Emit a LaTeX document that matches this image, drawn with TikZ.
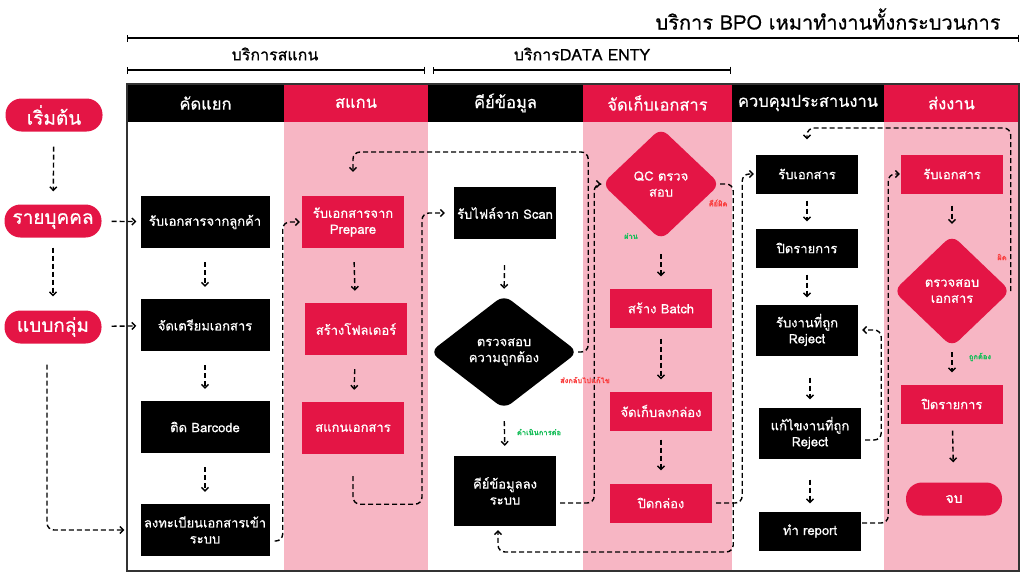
\documentclass[tikz,border=0pt]{standalone}
\usepackage{fontspec}
\setmainfont{Loma}[Script=Thai, FakeBold=0.6]
\usetikzlibrary{arrows.meta,positioning,shapes.geometric}
\definecolor{bred}{RGB}{228,21,69}
\definecolor{bpink}{RGB}{247,182,196}
\definecolor{okgreen}{RGB}{24,190,90}
\definecolor{ngred}{RGB}{250,62,62}

\begin{document}
\begin{tikzpicture}[x=1pt, y=-1pt,
  font=\fontsize{13}{16}\selectfont, >={Straight Barb[length=3.5pt,width=7pt]},
  flow/.style={->, line width=1.4pt, dash pattern=on 5pt off 3pt,
               rounded corners=7pt},
  blk/.style={fill=black, text=white, align=center, inner sep=2pt,
              minimum width=129pt, minimum height=52pt},
  rbx/.style={fill=bred, text=white, align=center, inner sep=2pt,
              minimum width=102pt, minimum height=39pt},
  term/.style={fill=bred, text=white, rounded corners=16pt,
               minimum width=97pt, minimum height=33pt,
               font=\fontsize{19}{21}\selectfont},
  dia/.style={diamond, text=white, align=center, inner sep=0pt,
              rounded corners=9pt},
  hdr/.style={text=white, font=\fontsize{16.5}{19}\selectfont},
  tag/.style={font=\fontsize{7.5}{8}\selectfont\bfseries, inner sep=0pt},
  bar/.style={{Bar[width=7pt]}-{Bar[width=7pt]}, line width=1.4pt}]
\useasboundingbox (0,0) rectangle (1024,576);

% swim lanes
\foreach \xa/\xb/\hcol/\bcol/\hd [count=\i] in
  {127/284/black/white/คัดแยก, 284/428/bred/bpink/สแกน,
   428/583/black/white/คีย์ข้อมูล, 583/732/bred/bpink/จัดเก็บเอกสาร,
   732/884/black/white/ควบคุมประสานงาน, 884/1019/bred/bpink/ส่งงาน}{
  \fill[\bcol] (\xa,122) rectangle (\xb,571);
  \fill[\hcol] (\xa,85) rectangle (\xb,122);
  \node[hdr] (h\i) at ({(\xa+\xb)/2},103) {\hd};
}
\draw[line width=1.6pt, black!80] (127,84) rectangle (1019,571);

% service brackets
\node[font=\fontsize{20}{22}\selectfont] (ttl) at (828,19) {บริการ BPO เหมาทำงานทั้งกระบวนการ};
\draw[bar] (127,38) -- (1019,38);
\node[font=\fontsize{16}{18}\selectfont] (scansvc) at (275,54) {บริการสแกน};
\draw[bar] (127,70) -- (425,70);
\node[font=\fontsize{16}{18}\selectfont] (keysvc) at (582,54) {บริการDATA ENTY};
\draw[bar] (433,70) -- (731,70);

% start
\node[term] (start) at (54,115) {เริ่มต้น};
\node[term] (indiv) at (53,221) {รายบุคคล};
\node[term] (group) at (53,327) {แบบกลุ่ม};

% sort
\node[blk] (recv) at (205,222) {รับเอกสารจากลูกค้า};
\node[blk] (prep) at (205,325) {จัดเตรียมเอกสาร};
\node[blk] (barc) at (205,427) {ติด Barcode};
\node[blk] (regi) at (205,530) {ลงทะเบียนเอกสารเข้า\\ระบบ};

% scan
\node[rbx, minimum height=52pt] (rprep) at (353,222) {รับเอกสารจาก\\Prepare};
\node[rbx, minimum height=52pt] (fold) at (356,329) {สร้างโฟลเดอร์};
\node[rbx, minimum height=52pt] (scan) at (353,428) {สแกนเอกสาร};

% key in
\node[blk, minimum width=102pt] (rfile) at (505,213) {รับไฟล์จาก Scan};
\node[dia, fill=black, minimum width=148pt, minimum height=114pt] (chk) at (504,352) {ตรวจสอบ\\ความถูกต้อง};
\node[blk, minimum width=102pt, minimum height=70pt] (key) at (505,491) {คีย์ข้อมูลลง\\ระบบ};

% store
\node[dia, fill=bred, minimum width=118pt, minimum height=112pt] (qc) at (661,184) {QC ตรวจ\\สอบ};
\node[rbx] (batch) at (661,308) {สร้าง Batch};
\node[rbx] (box) at (661,411) {จัดเก็บลงกล่อง};
\node[rbx] (close) at (661,503) {ปิดกล่อง};

% coordinate
\node[blk, minimum width=102pt, minimum height=39pt] (get) at (807,174) {รับเอกสาร};
\node[blk, minimum width=102pt, minimum height=39pt] (clist) at (807,248) {ปิดรายการ};
\node[blk, minimum width=102pt, minimum height=51pt] (rej) at (807,330) {รับงานที่ถูก\\Reject};
\node[blk, minimum width=102pt, minimum height=51pt] (fix) at (810,433) {แก้ไขงานที่ถูก\\Reject};
\node[blk, minimum width=102pt, minimum height=39pt] (rep) at (810,531) {ทำ report};

% deliver
\node[rbx] (get2) at (952,174) {รับเอกสาร};
\node[dia, fill=bred, minimum width=117pt, minimum height=112pt] (chk2) at (952,291) {ตรวจสอบ\\เอกสาร};
\node[rbx] (clist2) at (952,404) {ปิดรายการ};
\node[term, minimum width=96pt, font=\fontsize{14}{16}\selectfont] (fin) at (954,499) {จบ};

% flow down
\draw[flow, shorten <=15pt, shorten >=13pt] (start) -- (indiv);
\draw[flow, shorten <=10pt, shorten >=14pt] (indiv) -- (group);
\draw[flow, shorten <=10pt, shorten >=4pt] (indiv) -- (recv);
\draw[flow, shorten <=10pt, shorten >=4pt] (group) -- (prep);
\draw[flow, shorten >=16pt] ([shift={(-6,21)}]group.south) |- (regi.west);
\foreach \a/\b in {recv/prep, prep/barc, barc/regi}
  \draw[flow, shorten <=14pt, shorten >=12pt] (\a) -- (\b);
\draw[flow, shorten <=14pt, shorten >=12pt] (rprep) -- (fold);
\draw[flow, shorten <=14pt, shorten >=12pt] (fold) -- (scan);
\draw[flow, shorten >=2pt] ([shift={(5,11)}]regi.east) -- ++(8,0) |- (rprep.west);
\draw[flow, shorten >=9pt] ([yshift=-22pt]scan.south) -- ++(0,28) -- ++(69,0) |- (rfile.west);
\draw[flow, shorten <=26pt, shorten >=6pt] (rfile.south) -- (chk.north);
\draw[flow, shorten <=12pt, shorten >=10pt] (chk.south) -- (key.north);
\draw[flow, shorten >=24pt] (chk.east) -- ++(10,0) -- ++(0,-200) -| (rprep.north);
\draw[flow, shorten >=1pt] ([shift={(4,12)}]key.east) -- ++(34,0) |- (qc.west);
\draw[flow, shorten <=14pt, shorten >=12pt] (qc.south) -- (batch.north);
\draw[flow, shorten <=11pt, shorten >=12pt] (batch) -- (box);
\draw[flow, shorten <=9pt, shorten >=13pt] (box) -- (close);
\draw[flow, shorten >=4pt] (qc.east) -- ++(13,0) -- ++(0,368) -| ([xshift=-7pt]key.south);
\draw[flow, shorten >=2pt] ([xshift=4pt]close.east) -- ++(26,0) |- (get.west);
\draw[flow, shorten <=7pt, shorten >=7pt] (get) -- (clist);
\draw[flow, shorten <=7pt, shorten >=7pt] (clist) -- (rej);
\draw[flow, shorten <=22pt, shorten >=8pt] ([xshift=3pt]rej.south) -- (fix.north);
\draw[flow, shorten <=21pt, shorten >=8pt] (fix) -- (rep);
\draw[flow, shorten >=4pt] ([shift={(4,7)}]fix.east) -- ++(16,0) |- (rej.east);
\draw[flow, shorten >=1pt] ([shift={(1,-8)}]rep.east) -- ++(26,0) |- (get2.west);
\draw[flow, shorten <=12pt, shorten >=11pt] (get2.south) -- (chk2.north);
\draw[flow, shorten <=5pt, shorten >=12pt] (chk2.south) -- (clist2.north);
\draw[flow, shorten <=7pt, shorten >=20pt] (clist2) -- (fin);
\draw[flow, shorten >=15pt] (chk2.east) -- ++(0,-163) -| (get.north);

% branch tags
\node[tag, text=ngred] (tback) at (585,380) {ส่งกลับไปแก้ไข};
\node[tag, text=okgreen] (tgo) at (539,432) {ดำเนินการต่อ};
\node[tag, text=okgreen] (tpass) at (631,236) {ผ่าน};
\node[tag, text=ngred] (twrong) at (718,203) {คีย์ผิด};
\node[tag, text=ngred] (tbad) at (1002,257) {ผิด};
\node[tag, text=okgreen] (tok) at (980,357) {ถูกต้อง};
\end{tikzpicture}
\end{document}
